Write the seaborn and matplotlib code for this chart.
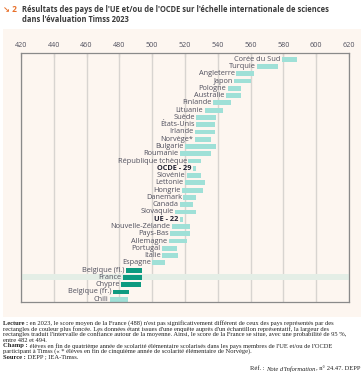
import numpy as np
import pandas as pd
import matplotlib
matplotlib.use('Agg')
import matplotlib.pyplot as plt
import seaborn as sns

# data: confidence interval (low, high) of the mean score
pays = ['Corée du Sud', 'Turquie', 'Angleterre', 'Japon', 'Pologne', 'Australie',
        'Finlande', 'Lituanie', 'Suède', 'États-Unis', 'Irlande', 'Norvège*',
        'Bulgarie', 'Roumanie', 'République tchèque', 'OCDE - 29', 'Slovénie',
        'Lettonie', 'Hongrie', 'Danemark', 'Canada', 'Slovaquie', 'UE - 22',
        'Nouvelle-Zélande', 'Pays-Bas', 'Allemagne', 'Portugal', 'Italie',
        'Espagne', 'Belgique (fl.)', 'France', 'Chypre', 'Belgique (fr.)', 'Chili']
bas = [579, 564, 551, 550, 546, 545, 537, 532, 527, 527, 526, 526, 520, 517, 522,
       525, 521, 520, 518, 519, 517, 514, 517, 512, 511, 510, 506, 506, 500, 484,
       482, 481, 476, 474]
haut = [588, 577, 562, 560, 554, 554, 548, 543, 539, 538, 538, 536, 539, 536, 530,
        527, 530, 532, 531, 527, 525, 527, 519, 523, 523, 521, 515, 516, 508, 494,
        494, 493, 486, 485]
non_diff_france = ['Belgique (fl.)', 'France', 'Chypre', 'Belgique (fr.)']
moyennes = ['OCDE - 29', 'UE - 22']
ticks = list(range(420, 621, 20))

df = pd.DataFrame({'pays': pays, 'bas': bas, 'haut': haut})
df['largeur'] = df['haut'] - df['bas']
df['pos'] = np.arange(len(df))

sns.set_theme(style='white')
plt.rcParams['font.family'] = ['Open Sans', 'DejaVu Sans']

clair = '#9fe0d7'
fonce = '#0d9a80'
fond = '#fdf6f0'
gris_txt = '#50505e'

fig = plt.figure(figsize=(3.64, 3.82), dpi=100)
fig.patch.set_facecolor('white')

# cream panel behind the chart
panel = plt.Rectangle((3 / 364, 1 - 316.5 / 382), 358 / 364, (316.5 - 29) / 382,
                      transform=fig.transFigure, facecolor=fond, edgecolor='none', zorder=-5)
fig.patches.append(panel)

ax = fig.add_axes([21 / 364, 1 - 302 / 382, 328 / 364, (302 - 53.3) / 382])
ax.set_facecolor(fond)
ax.set_zorder(2)

ax.set_xlim(420, 620)
ax.set_ylim(len(df) - 1 + 0.38, -0.81)

for t in ticks:
    ax.axvline(t, color='#d8d4d0', lw=1.0, zorder=1)

i_fr = pays.index('France')
ax.axhspan(i_fr - 0.42, i_fr + 0.42, color='#e4eee6', zorder=1.5, lw=0)

couleurs = [fonce if p in non_diff_france else clair for p in df['pays']]
ax.barh(df['pos'], df['largeur'], left=df['bas'], height=0.66, color=couleurs,
        edgecolor='none', zorder=3)

for _, r in df.iterrows():
    gras = r['pays'] in moyennes
    ax.text(r['bas'] - 0.8, r['pos'], r['pays'], ha='right', va='center',
            fontsize=5.3, color='#222233' if gras else gris_txt,
            fontweight='bold' if gras else 'normal', zorder=4)

ax.xaxis.tick_top()
ax.set_xticks(ticks)
ax.set_xticklabels([str(t) for t in ticks])
ax.tick_params(axis='x', top=True, bottom=False, direction='in', length=3, width=0.8,
               color='#8a8a8a', labelsize=5.2, labelcolor=gris_txt, pad=3)
ax.set_yticks([])
for s in ax.spines.values():
    s.set_color('#8a8a8a')
    s.set_linewidth(0.9)
    s.set_zorder(5)

# title
fig.text(3 / 364, 1 - 9 / 382, '↘ 2', color='#e8702a', fontsize=6.0, fontweight='bold',
         va='center', ha='left')
fig.text(22 / 364, 1 - 9 / 382,
         "Résultats des pays de l'UE et/ou de l'OCDE sur l'échelle internationale de sciences",
         color='#3a3a3a', fontsize=5.45, fontweight='bold', va='center', ha='left')
fig.text(22 / 364, 1 - 19 / 382, "dans l'évaluation Timss 2023",
         color='#3a3a3a', fontsize=5.45, fontweight='bold', va='center', ha='left')

# notes under the chart
serif = ['Liberation Serif', 'DejaVu Serif']
fs_note = 4.65
notes = [
    ('Lecture :', " en 2023, le score moyen de la France (488) n'est pas significativement différent de ceux des pays représentés par des"),
    ('', "rectangles de couleur plus foncée. Les données étant issues d'une enquête auprès d'un échantillon représentatif, la largeur des"),
    ('', "rectangles traduit l'intervalle de confiance autour de la moyenne. Ainsi, le score de la France se situe, avec une probabilité de 95 %,"),
    ('', 'entre 482 et 494.'),
    ('Champ :', " élèves en fin de quatrième année de scolarité élémentaire scolarisés dans les pays membres de l'UE et/ou de l'OCDE"),
    ('', 'participant à Timss (« * élèves en fin de cinquième année de scolarité élémentaire de Norvège).'),
    ('Source :', ' DEPP ; IEA-Timss.'),
]
y0 = 323.3
for k, (gras, reste) in enumerate(notes):
    y = 1 - (y0 + k * 5.62) / 382
    if gras:
        t = fig.text(3 / 364, y, gras, fontsize=fs_note, fontweight='bold', family=serif,
                     color='#222222', va='center', ha='left')
        ax.annotate(reste, xy=(1, 0.5), xycoords=t, va='center', ha='left',
                    fontsize=fs_note, family=serif, color='#222222', annotation_clip=False)
    else:
        fig.text(3 / 364, y, reste, fontsize=fs_note, family=serif,
                 color='#222222', va='center', ha='left')

yr = 1 - 369 / 382
t3 = fig.text(361 / 364, yr, ', n° 24.47. DEPP', fontsize=fs_note, family=serif,
              color='#222222', va='center', ha='right')
t2 = ax.annotate("Note d'Information", xy=(0, 0.5), xycoords=t3, xytext=(-0.8, 0),
                 textcoords='offset points', va='center', ha='right',
                 fontsize=fs_note, family=serif, style='italic', color='#222222',
                 annotation_clip=False)
ax.annotate('Réf. : ', xy=(0, 0.5), xycoords=t2, va='center', ha='right',
            fontsize=fs_note, family=serif, color='#222222', annotation_clip=False)

fig.savefig('out.png', dpi=100, facecolor='white')
